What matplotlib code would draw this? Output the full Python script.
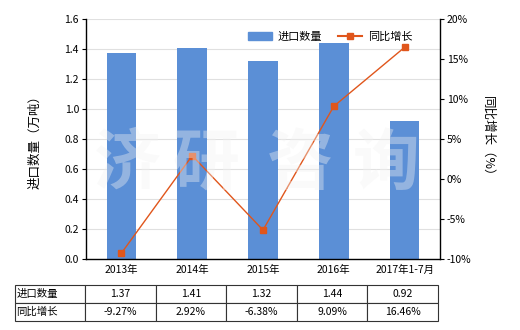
import matplotlib
matplotlib.use("Agg")
import matplotlib.pyplot as plt
from matplotlib.lines import Line2D
from matplotlib.patches import Patch

plt.rcParams['font.family'] = ['Noto Sans CJK SC', 'DejaVu Sans']

categories = ["2013年", "2014年", "2015年", "2016年", "2017年1-7月"]
quantity = [1.37, 1.41, 1.32, 1.44, 0.92]
growth = [-9.27, 2.92, -6.38, 9.09, 16.46]
quantity_labels = ["1.37", "1.41", "1.32", "1.44", "0.92"]
growth_labels = ["-9.27%", "2.92%", "-6.38%", "9.09%", "16.46%"]
left_ticks = [0.0, 0.2, 0.4, 0.6, 0.8, 1.0, 1.2, 1.4, 1.6]
right_ticks = [-10, -5, 0, 5, 10, 15, 20]
watermark_chars = ["济", "研", "咨", "询"]

bar_color = "#5b8fd6"
line_color = "#e0561c"

fig = plt.figure(figsize=(5.2, 3.3), dpi=100)
ax = fig.add_axes([86/520, 1-259/330, 354/520, 240/330])
x = list(range(len(categories)))
ax.bar(x, quantity, width=0.42, color=bar_color, zorder=2)
ax.set_xlim(-0.5, len(categories)-0.5)
ax.set_ylim(0, 1.6)
ax.set_yticks(left_ticks)
ax.set_yticklabels([f"{t:.1f}" for t in left_ticks], fontsize=7.5)
ax.grid(axis='y', color='#e0e0e0', linewidth=0.8, zorder=0)
ax.set_xticks(x)
ax.set_xticklabels(categories, fontsize=7.5)
ax.tick_params(axis='x', length=0, pad=4)
ax.tick_params(axis='y', length=3, width=0.8, pad=2)
for s in ['top', 'right']:
    ax.spines[s].set_visible(False)
ax.spines['left'].set_linewidth(1.0)
ax.spines['bottom'].set_linewidth(1.0)
ax.set_ylabel("进口数量（万吨）", fontsize=9, labelpad=17)

ax2 = ax.twinx()
ax2.plot(x, growth, color=line_color, linewidth=1.0, marker='s', markersize=4, zorder=3)
ax2.set_ylim(-10, 20)
ax2.set_yticks(right_ticks)
ax2.set_yticklabels([f"{t}%" for t in right_ticks], fontsize=7.5)
ax2.tick_params(axis='y', length=3, width=0.8, pad=2)
for s in ['top', 'left', 'bottom']:
    ax2.spines[s].set_visible(False)
ax2.spines['right'].set_linewidth(1.0)
ax2.set_ylabel("同比增长（%）", fontsize=9, rotation=270, labelpad=16)

# watermark
wm_x = [127, 206, 300, 386]
for ch, px in zip(watermark_chars, wm_x):
    fig.text(px/520, 1-164/330, ch, fontsize=48, color='#f2f2f2', alpha=0.38,
             ha='center', va='center', fontweight='bold', zorder=5)

handles = [Patch(color=bar_color), Line2D([0], [0], color=line_color, marker='s', markersize=4, linewidth=1.5)]
ax2.legend(handles, ["进口数量", "同比增长"], loc='upper right', bbox_to_anchor=(0.95, 0.99),
           ncol=2, frameon=False, fontsize=8, handlelength=2.2, columnspacing=1.4, handletextpad=0.5)

# table
cell_text = [["进口数量"] + quantity_labels, ["同比增长"] + growth_labels]
tab = ax.table(cellText=cell_text, cellLoc='center',
               bbox=[(15-86)/354, (259-321)/240, (438-15)/354, 36/240],
               colWidths=[70] + [70.6]*5)
tab.auto_set_font_size(False)
tab.set_fontsize(7.5)
for (r, c), cell in tab.get_celld().items():
    cell.set_linewidth(0.8)
    cell.set_edgecolor('#333333')
    if c == 0:
        cell._loc = 'left'
        cell.set_text_props(ha='left')
        cell.PAD = 0.02

fig.savefig("out.png", dpi=100)
